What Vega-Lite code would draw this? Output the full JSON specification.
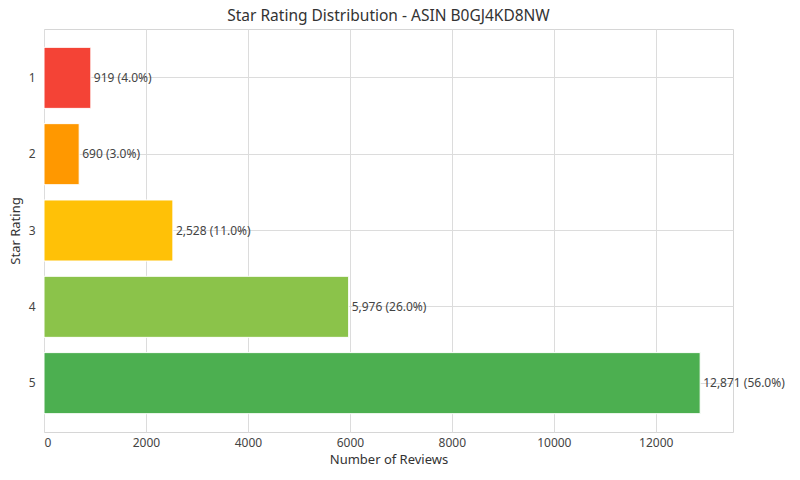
{
  "$schema": "https://vega.github.io/schema/vega-lite/v6.json",
  "autosize": {"type": "none"},
  "width": 689,
  "height": 403,
  "padding": {"left": 44, "top": 29, "right": 67, "bottom": 48},
  "background": "white",
  "title": {"text": "Star Rating Distribution - ASIN B0GJ4KD8NW", "font": "Noto Sans", "fontSize": 15.5, "fontWeight": "normal", "color": "#333333", "offset": 5},
  "config": {
    "view": {"stroke": "#d6d6d6", "strokeWidth": 1},
    "font": "Noto Sans"
  },
  "data": {"values": [
    {"rating": "1", "count": 919, "label": "919 (4.0%)"},
    {"rating": "2", "count": 690, "label": "690 (3.0%)"},
    {"rating": "3", "count": 2528, "label": "2,528 (11.0%)"},
    {"rating": "4", "count": 5976, "label": "5,976 (26.0%)"},
    {"rating": "5", "count": 12871, "label": "12,871 (56.0%)"}
  ]},
  "encoding": {
    "y": {"field": "rating", "type": "nominal", "sort": ["1","2","3","4","5"],
      "scale": {"paddingInner": 0.2, "paddingOuter": 0.24},
      "axis": {"title": "Star Rating", "grid": true, "gridColor": "#dcdcdc", "ticks": false, "domain": false, "labelPadding": 9, "labelFontSize": 12, "labelColor": "#444444", "titleFontSize": 13, "titleFontWeight": "normal", "titleColor": "#333333", "titlePadding": 6, "labelAngle": 0}},
    "x": {"field": "count", "type": "quantitative",
      "scale": {"domain": [0, 13515], "nice": false, "zero": true},
      "axis": {"title": "Number of Reviews", "grid": true, "gridColor": "#dcdcdc", "values": [0,2000,4000,6000,8000,10000,12000], "format": "d", "ticks": false, "domain": false, "labelPadding": 5, "labelFontSize": 12, "labelColor": "#444444", "titleFontSize": 13, "titleFontWeight": "normal", "titleColor": "#333333", "titlePadding": 5}}
  },
  "layer": [
    {"mark": {"type": "bar", "stroke": "white", "strokeWidth": 1},
     "encoding": {"color": {"field": "rating", "type": "nominal", "legend": null,
       "scale": {"domain": ["1","2","3","4","5"], "range": ["#f44336","#ff9800","#ffc107","#8bc34a","#4caf50"]}}}},
    {"mark": {"type": "text", "align": "left", "dx": 3, "fontSize": 12, "color": "#444444"},
     "encoding": {"text": {"field": "label"}}}
  ]
}
